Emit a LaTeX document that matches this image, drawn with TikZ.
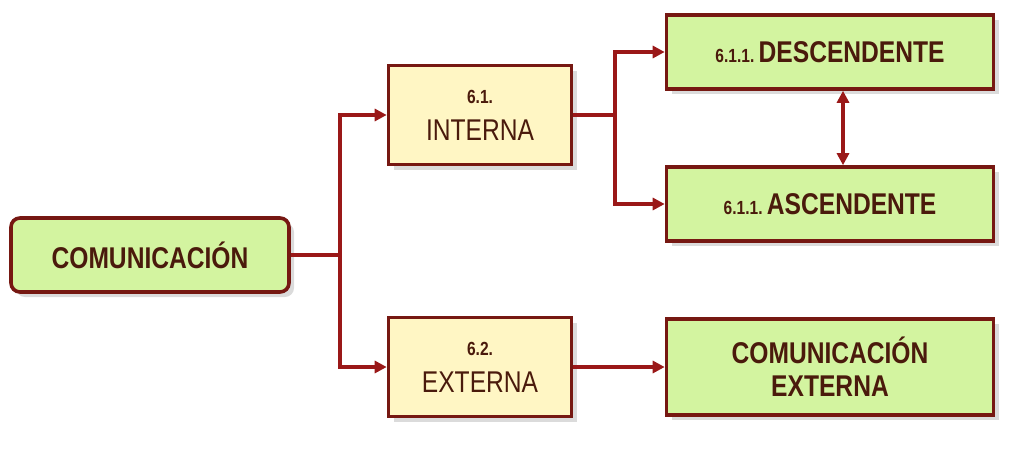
\documentclass[tikz,border=0pt]{standalone}
\usepackage{fontspec}
\setmainfont{Liberation Sans}[FakeStretch=0.82]
\usetikzlibrary{shadows,arrows.meta}
\definecolor{bord}{HTML}{761812}
\definecolor{ln}{HTML}{9A1818}
\definecolor{txt}{HTML}{4A1A0C}
\definecolor{gfill}{HTML}{D3F4A0}
\definecolor{yfill}{HTML}{FFF6C4}
\newcommand{\sm}{\fontsize{19}{21}\selectfont\bfseries}
\newcommand{\bg}{\fontsize{30}{33}\selectfont}
\tikzset{
  box/.style={draw=bord, line width=3.6pt, text=txt, align=center, inner sep=0pt,
    font=\bg, drop shadow={shadow xshift=5pt, shadow yshift=-5pt, fill=black!28}},
  gbox/.style={box, fill=gfill},
  ybox/.style={box, fill=yfill},
  conn/.style={draw=ln, line width=3.6pt},
  arr/.style={conn, -{Triangle[length=12pt,width=12pt]}},
  darr/.style={conn, {Triangle[length=12pt,width=12pt]}-{Triangle[length=12pt,width=12pt]}},
}
\begin{document}
\begin{tikzpicture}[x=1pt,y=-1pt]
\useasboundingbox (0,0) rectangle (1035,474);
\node[gbox, rounded corners=9pt, minimum width=278pt, minimum height=74pt] (com) at (150,255)
  {\bfseries COMUNICACIÓN};
\node[ybox, minimum width=183pt, minimum height=99pt] (int) at (480,115)
  {{\sm 6.1.}\\[4pt]INTERNA};
\node[ybox, minimum width=183pt, minimum height=99pt] (ext) at (480,367)
  {{\sm 6.2.}\\[4pt]EXTERNA};
\node[gbox, minimum width=327pt, minimum height=74pt] (desc) at (830,52)
  {{\sm 6.1.1.\ }\bfseries DESCENDENTE};
\node[gbox, minimum width=327pt, minimum height=74pt] (asc) at (830,204)
  {{\sm 6.1.1.\ }\bfseries ASCENDENTE};
\node[gbox, font=\bg\bfseries, minimum width=327pt, minimum height=96pt] (ce) at (830,367)
  {COMUNICACIÓN\\EXTERNA};
\coordinate (j1) at (340,255);
\coordinate (j2) at (615,115);
\draw[conn] (com.east) -- (j1);
\draw[arr] (j1) |- (int.west);
\draw[arr] (j1) |- (ext.west);
\draw[conn] (int.east) -- (j2);
\draw[arr] (j2) |- (desc.west);
\draw[arr] (j2) |- (asc.west);
\draw[arr] (ext.east) -- (ce.west);
\draw[darr] ([xshift=13pt]desc.south) -- ([xshift=13pt]asc.north);
\end{tikzpicture}
\end{document}
